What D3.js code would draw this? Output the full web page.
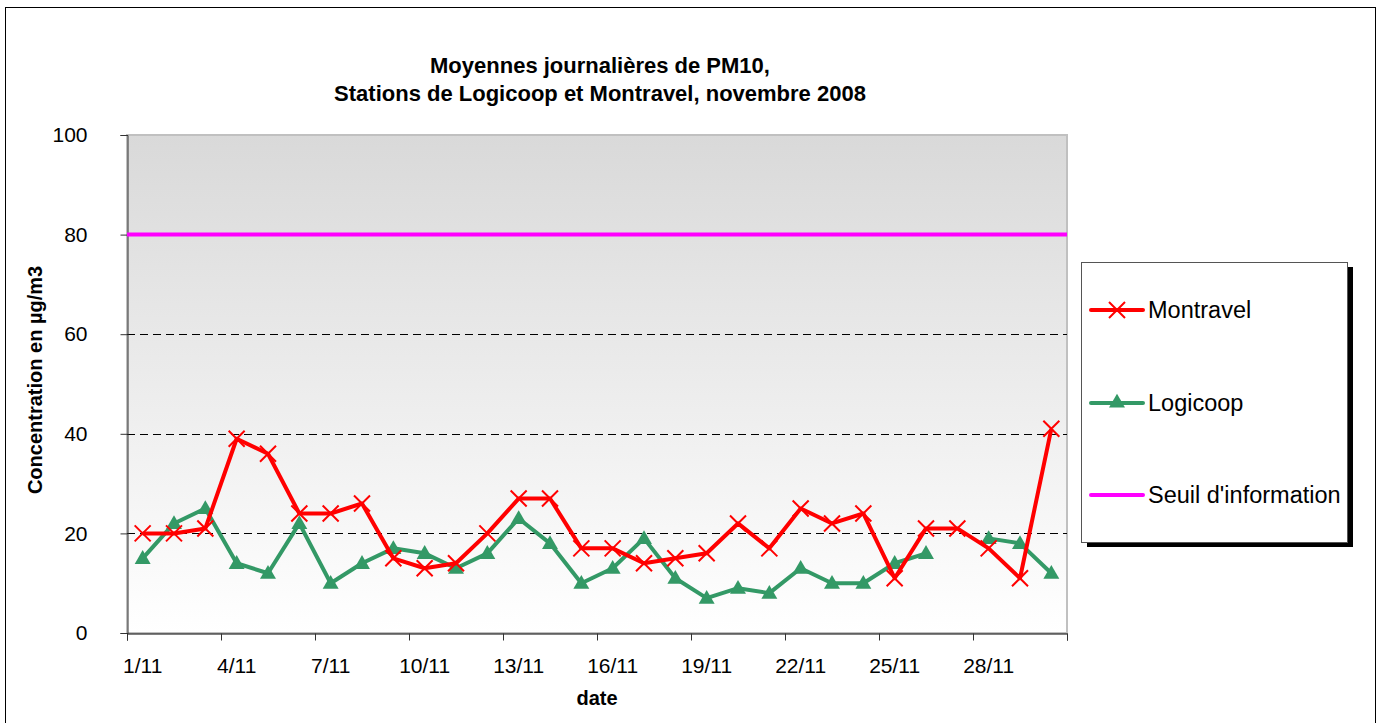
<!DOCTYPE html>
<html>
<head>
<meta charset="utf-8">
<script src="https://cdn.jsdelivr.net/npm/d3@7"></script>
<style>
  body { margin: 0; background: #fff; }
  svg { display: block; font-family: Arial, "Liberation Sans", sans-serif; }
</style>
</head>
<body>
<svg width="1383" height="723"></svg>
<script>
// jours de novembre 2008
var days = d3.range(1, 31).map(function(d) { return d + "/11"; });
var montravel = [20, 20, 21, 39, 36, 24, 24, 26, 15, 13, 14, 20, 27, 27, 17,
                 17, 14, 15, 16, 22, 17, 25, 22, 24, 11, 21, 21, 17, 11, 41];
var logicoop  = [15, 22, 25, 14, 12, 22, 10, 14, 17, 16, 13, 16, 23, 18, 10,
                 13, 19, 11, 7, 9, 8, 13, 10, 10, 14, 16, null, 19, 18, 12];
var seuil = 80;
var yTicks = [0, 20, 40, 60, 80, 100];
var legendNames = ["Montravel", "Logicoop", "Seuil d'information"];

var svg = d3.select("svg");
var pLeft = 127, pRight = 1067, pTop = 135, pBottom = 633;

var x = d3.scaleBand().domain(days).range([pLeft, pRight]);
var xEdge = d3.scaleLinear().domain([0, days.length]).range([pLeft, pRight]);
var y = d3.scaleLinear().domain([0, 100]).range([pBottom, pTop]);
function cx(d, i) { return x(days[i]) + x.bandwidth() / 2; }

// cadre du graphique
svg.append("rect")
  .attr("x", 5.5).attr("y", 7.5)
  .attr("width", 1370).attr("height", 730)
  .attr("fill", "#fff").attr("stroke", "#000").attr("stroke-width", 1);

// fond dégradé
var grad = svg.append("defs").append("linearGradient")
  .attr("id", "bg").attr("x1", 0).attr("y1", 0).attr("x2", 0).attr("y2", 1);
grad.append("stop").attr("offset", "0%").attr("stop-color", "#d9d9d9");
grad.append("stop").attr("offset", "100%").attr("stop-color", "#ffffff");

svg.append("rect")
  .attr("x", pLeft).attr("y", pTop)
  .attr("width", pRight - pLeft).attr("height", pBottom - pTop)
  .attr("fill", "url(#bg)")
  .attr("stroke", "#c0c0c0").attr("stroke-width", 2);

// grille pointillée
svg.append("g")
  .selectAll("line")
  .data([20, 40, 60])
  .enter().append("line")
  .attr("x1", pLeft).attr("x2", pRight)
  .attr("y1", function(d) { return Math.round(y(d)) + 0.5; })
  .attr("y2", function(d) { return Math.round(y(d)) + 0.5; })
  .attr("stroke", "#000")
  .attr("stroke-dasharray", "8,5");

// axe Y
var yAxis = svg.append("g")
  .attr("transform", "translate(" + (pLeft + 0.5) + ",0)")
  .call(d3.axisLeft(y).tickValues(yTicks).tickSize(7).tickPadding(33));
yAxis.select(".domain").attr("stroke", "#333");
yAxis.selectAll(".tick line").attr("stroke", "#333");
yAxis.selectAll("text").attr("font-size", "21px").attr("fill", "#000")
  .attr("font-family", "Arial, 'Liberation Sans', sans-serif");

// axe X : graduations aux bords de catégories
var xAxis = svg.append("g")
  .attr("transform", "translate(0," + (pBottom + 0.5) + ")")
  .call(d3.axisBottom(xEdge).tickValues(d3.range(0, 31, 3)).tickSize(7).tickFormat(""));
xAxis.select(".domain").attr("stroke", "#000");
xAxis.selectAll(".tick line").attr("stroke", "#333");

var xLabels = svg.append("g")
  .attr("transform", "translate(0," + pBottom + ")")
  .call(d3.axisBottom(x)
    .tickValues(days.filter(function(d, i) { return i % 3 === 0; }))
    .tickSize(0).tickPadding(25));
xLabels.select(".domain").remove();
xLabels.selectAll("text").attr("font-size", "21px").attr("fill", "#000")
  .attr("font-family", "Arial, 'Liberation Sans', sans-serif");

// seuil d'information
svg.append("line")
  .attr("x1", pLeft).attr("x2", pRight)
  .attr("y1", y(seuil)).attr("y2", y(seuil))
  .attr("stroke", "#ff00ff").attr("stroke-width", 4);

var line = d3.line()
  .defined(function(d) { return d != null; })
  .x(cx)
  .y(function(d) { return y(d); });

// Logicoop
svg.append("path")
  .datum(logicoop)
  .attr("d", line)
  .attr("fill", "none").attr("stroke", "#339966").attr("stroke-width", 4)
  .attr("stroke-linejoin", "round");
svg.append("g")
  .selectAll("path")
  .data(logicoop.map(function(v, i) { return {v: v, i: i}; }).filter(function(d) { return d.v != null; }))
  .enter().append("path")
  .attr("d", d3.symbol().type(d3.symbolTriangle).size(110))
  .attr("transform", function(d) { return "translate(" + cx(d.v, d.i) + "," + (y(d.v) + 1) + ")"; })
  .attr("fill", "#339966");

// Montravel
var xMark = "M-8,-8L8,8M8,-8L-8,8";
svg.append("path")
  .datum(montravel)
  .attr("d", line)
  .attr("fill", "none").attr("stroke", "#ff0000").attr("stroke-width", 4)
  .attr("stroke-linejoin", "round");
svg.append("g")
  .selectAll("path")
  .data(montravel)
  .enter().append("path")
  .attr("d", xMark)
  .attr("transform", function(d, i) { return "translate(" + cx(d, i) + "," + y(d) + ")"; })
  .attr("stroke", "#ff0000").attr("stroke-width", 2).attr("fill", "none");

// titres
var title = svg.append("text")
  .attr("text-anchor", "middle")
  .attr("font-weight", "bold").attr("font-size", "22px");
title.append("tspan").attr("x", 600).attr("y", 73).text("Moyennes journalières de PM10,");
title.append("tspan").attr("x", 600).attr("y", 101).text("Stations de Logicoop et Montravel, novembre 2008");

svg.append("text")
  .attr("transform", "translate(42,380) rotate(-90)")
  .attr("text-anchor", "middle")
  .attr("font-weight", "bold").attr("font-size", "20px")
  .text("Concentration en µg/m3");

svg.append("text")
  .attr("x", (pLeft + pRight) / 2).attr("y", 705)
  .attr("text-anchor", "middle")
  .attr("font-weight", "bold").attr("font-size", "20px")
  .text("date");

// légende
var lg = svg.append("g");
lg.append("rect").attr("x", 1087).attr("y", 267).attr("width", 266).attr("height", 280).attr("fill", "#000");
lg.append("rect").attr("x", 1081.5).attr("y", 262.5).attr("width", 266).attr("height", 280)
  .attr("fill", "#fff").attr("stroke", "#555");

var legendColors = ["#ff0000", "#339966", "#ff00ff"];
var legendY = [310, 403, 495];
var item = lg.selectAll(".item")
  .data(legendNames)
  .enter().append("g")
  .attr("class", "item")
  .attr("transform", function(d, i) { return "translate(0," + legendY[i] + ")"; });
item.append("line")
  .attr("x1", 1091).attr("x2", 1143)
  .attr("stroke", function(d, i) { return legendColors[i]; })
  .attr("stroke-width", 4).attr("stroke-linecap", "round");
item.append("text")
  .attr("x", 1148).attr("dy", "0.35em")
  .attr("font-size", "23.5px")
  .text(function(d) { return d; });
item.filter(function(d, i) { return i === 0; }).append("path")
  .attr("d", xMark).attr("transform", "translate(1117,0)")
  .attr("stroke", "#ff0000").attr("stroke-width", 2);
item.filter(function(d, i) { return i === 1; }).append("path")
  .attr("d", d3.symbol().type(d3.symbolTriangle).size(110))
  .attr("transform", "translate(1117,0)")
  .attr("fill", "#339966");
</script>
</body>
</html>
